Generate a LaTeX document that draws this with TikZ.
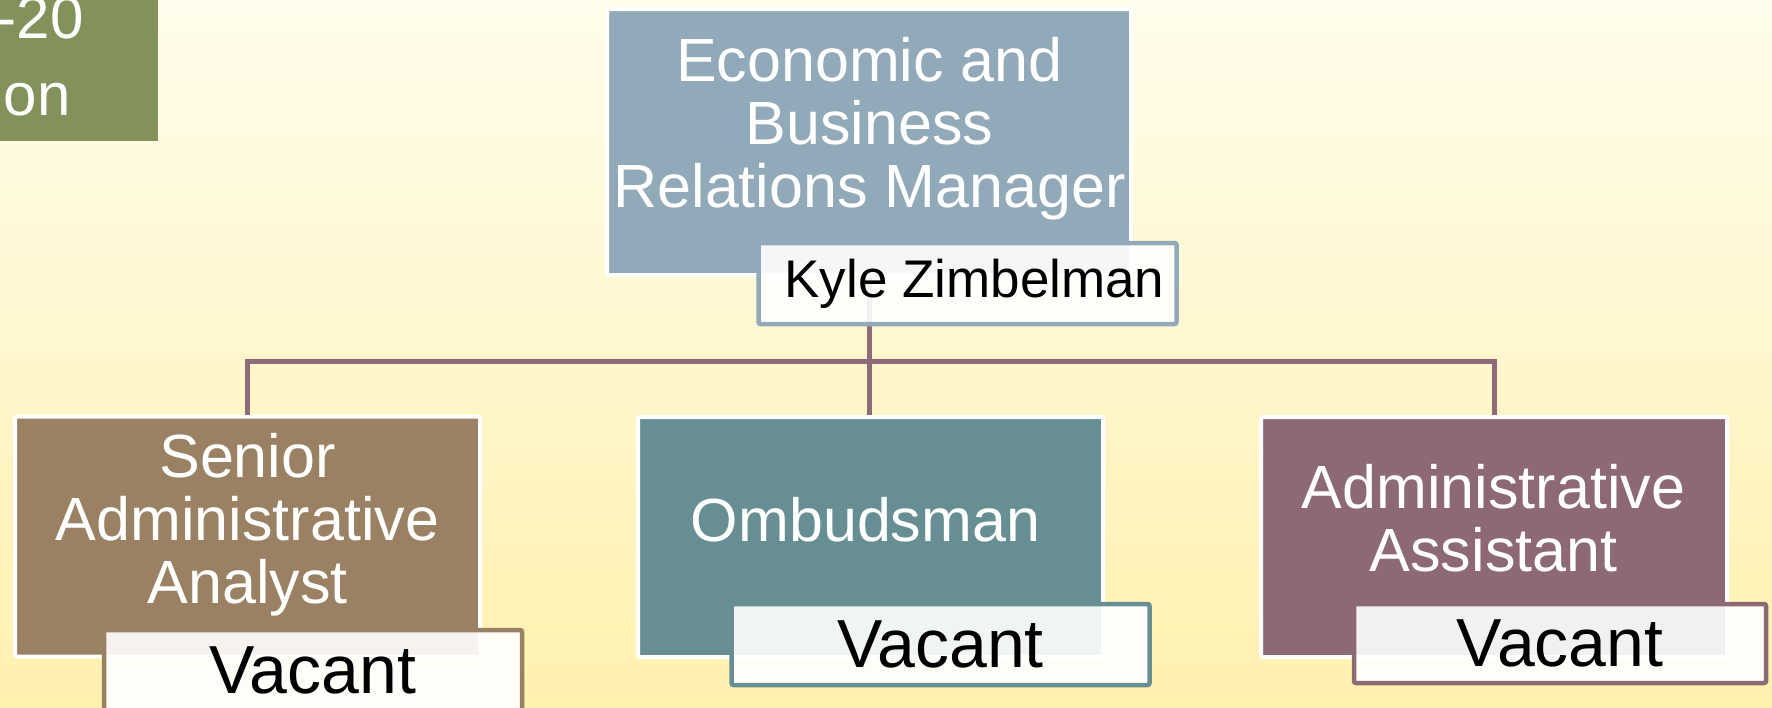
\documentclass[tikz,border=0pt]{standalone}
\usepackage{fontspec}
\setmainfont{Liberation Sans}
\usetikzlibrary{positioning}

\definecolor{bgtop}{HTML}{FFFCEC}
\definecolor{bgbot}{HTML}{FFF1AE}
\definecolor{oldcol}{HTML}{82925A}
\definecolor{mgrcol}{HTML}{92A9B9}
\definecolor{seniorcol}{HTML}{9B8164}
\definecolor{ombudscol}{HTML}{678F93}
\definecolor{assistcol}{HTML}{8D6A73}
\definecolor{linkcol}{HTML}{8E6B78}

\begin{document}
\begin{tikzpicture}[
            x=0.5pt, y=-0.5pt,
            post/.style={rectangle, draw=white, line width=2pt, rounded corners=1pt,
                minimum width=232.5pt, minimum height=120pt, inner sep=0pt},
            title/.style={text=white, align=center, inner sep=0pt,
                font=\fontsize{30.5pt}{31.5pt}\selectfont},
            holder/.style={rectangle, draw=#1, fill=white, fill opacity=0.9, text opacity=1,
                line width=2.25pt, rounded corners=1pt, minimum width=209pt,
                minimum height=40.5pt, inner sep=0pt, font=\fontsize{34pt}{36pt}\selectfont},
            link/.style={draw=linkcol, line width=2.5pt}
        ]

        % background
        \fill[top color=bgtop, bottom color=bgbot] (0,0) rectangle (1772,707);
        \useasboundingbox (0,0) rectangle (1772,707);

        % box cut off at the left edge
        \node[fill=oldcol, minimum width=79pt, minimum height=70.5pt, inner sep=0pt, anchor=north west] (prev) at (0,0) {};
        \node[text=white, inner sep=0pt, anchor=base east, font=\fontsize{30pt}{36pt}\selectfont] (prev-a) at (84,38) {-20};
        \node[text=white, inner sep=0pt, anchor=base east, font=\fontsize{30pt}{36pt}\selectfont] (prev-b) at (71,115) {on};

        % positions
        \node[post, fill=mgrcol, minimum width=262pt, minimum height=133pt] (mgr) at (869,142) {};
        \node[post, fill=seniorcol] (senior) at (247.5,536.5) {};
        \node[post, fill=ombudscol] (ombuds) at (870.5,537) {};
        \node[post, fill=assistcol, minimum width=233pt] (assist) at (1494,537) {};

        % lines
        \coordinate (bus) at (869,361);
        \draw[link] (mgr.south) -- (bus);
        \draw[link] (senior.north) |- (bus) -| (assist.north);
        \draw[link] (bus) -- (bus |- ombuds.north);

        \node[title] (mgr-t) at (869.5,129) {Economic and\\Business\\Relations Manager};
        \node[title] (senior-t) at (247.5,524.5) {Senior\\Administrative\\Analyst};
        \node[title] (ombuds-t) at (865.5,520) {Ombudsman};
        \node[title] (assist-t) at (1493.5,518) {Administrative\\Assistant};

        % names
        \node[holder=mgrcol, font=\fontsize{26.5pt}{30pt}\selectfont] (mgr-name) at (967.5,283.5) {\hspace{7pt}Kyle Zimbelman};
        \node[holder=seniorcol] (senior-name) at (313,670.5) {Vacant};
        \node[holder=ombudscol] (ombuds-name) at (940.5,644.5) {Vacant};
        \node[holder=assistcol, minimum width=206pt, minimum height=39.5pt] (assist-name) at (1560,643.5) {Vacant};

    \end{tikzpicture}
\end{document}
